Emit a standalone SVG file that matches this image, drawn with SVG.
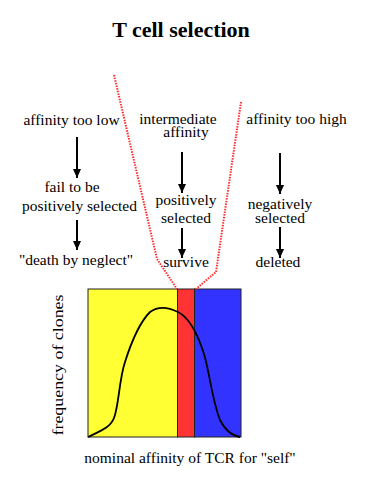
<svg xmlns="http://www.w3.org/2000/svg" width="367" height="494" viewBox="0 0 367 494" font-family="'Liberation Serif', 'DejaVu Serif', serif">
<style>
  text { font-family: 'Liberation Serif', Tinos, 'DejaVu Serif', serif; font-size: 15.5px; fill: #000; text-anchor: middle; }
  .title { font-size: 22px; font-weight: bold; }
  .arrow { stroke: #000; stroke-width: 2; fill: none; marker-end: url(#ah); }
  .bound { stroke: #ff2a2a; stroke-width: 2; fill: none; stroke-dasharray: 1.5 1.2; }
  .band { stroke: #222; stroke-width: 1; }
</style>
<defs>
  <marker id="ah" markerUnits="userSpaceOnUse" markerWidth="10" markerHeight="10" refX="9" refY="4" orient="auto">
    <path d="M0,0 L9,4 L0,8 Z" fill="#000"/>
  </marker>
</defs>
<rect width="367" height="494" fill="#fff"/>
<text class="title" x="181" y="37">T cell selection</text>

<g id="plot">
  <rect class="band" x="88" y="289" width="89.5" height="148" fill="#ffff33"/>
  <rect class="band" x="177.5" y="289" width="17" height="148" fill="#ff3333"/>
  <rect class="band" x="194.5" y="289" width="46.5" height="148" fill="#3333ff"/>
  <path d="M88,437 C100,431 110,428 114,418 C119,405 119,380 125,362 C132,340 140,322 150,312 C158,306 168,307 178,312 C190,318 198,335 204,354 C210,374 212,400 220,420 C226,432 234,436 240,437" fill="none" stroke="#000" stroke-width="1.8"/>
  <text x="62.5" y="365" font-size="16" textLength="141" lengthAdjust="spacingAndGlyphs" transform="rotate(-90 62.5 365)">frequency of clones</text>
  <text x="190" y="463">nominal affinity of TCR for "self"</text>
</g>

<g id="boundaries">
  <polyline class="bound" points="114,75 157,259 177,289"/>
  <polyline class="bound" points="241,102 216,272 196,289"/>
</g>

<g id="low">
  <text x="71.5" y="125">affinity too low</text>
  <text x="72" y="192">fail to be</text>
  <text x="79.5" y="210.5">positively selected</text>
  <text x="76" y="265">"death by neglect"</text>
</g>

<g id="intermediate">
  <text x="178" y="124">intermediate</text>
  <text x="186" y="137">affinity</text>
  <text x="186" y="205">positively</text>
  <text x="186" y="222.5">selected</text>
  <text x="186" y="267">survive</text>
</g>

<g id="high">
  <text x="296.5" y="124">affinity too high</text>
  <text x="280" y="209">negatively</text>
  <text x="280" y="223">selected</text>
  <text x="278" y="267">deleted</text>
</g>

<g id="connectors">
  <line class="arrow" x1="77" y1="137" x2="77" y2="178"/>
  <line class="arrow" x1="77" y1="220" x2="77" y2="250"/>
  <line class="arrow" x1="182" y1="152" x2="182" y2="193"/>
  <line class="arrow" x1="182" y1="228" x2="182" y2="258"/>
  <line class="arrow" x1="280" y1="153" x2="280" y2="194"/>
  <line class="arrow" x1="280" y1="227" x2="280" y2="258"/>
</g>
</svg>
